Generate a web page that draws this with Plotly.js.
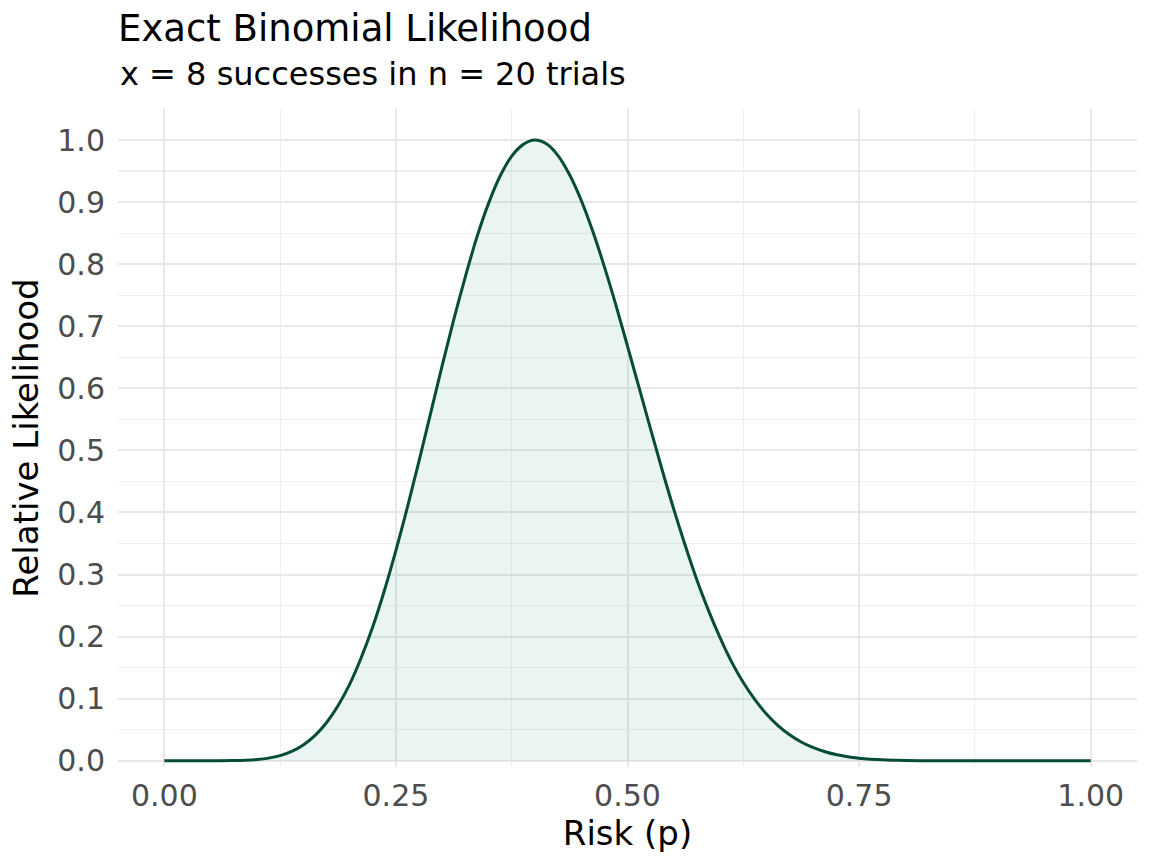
<!DOCTYPE html>
<html>
<head>
<meta charset="utf-8">
<script src="https://cdn.plot.ly/plotly-3.0.1.min.js"></script>
<style>
  html, body { margin: 0; padding: 0; background: #ffffff; }
  #chart { width: 1152px; height: 864px; }
</style>
</head>
<body>
<div id="chart"></div>
<script>
// risk values (p) and relative likelihood
const risk = [0, 0.025, 0.05, 0.075, 0.0875, 0.1, 0.1125, 0.125, 0.1375, 0.15, 0.1625, 0.175, 0.1875,
  0.2, 0.2125, 0.225, 0.2375, 0.25, 0.2625, 0.275, 0.2875, 0.3, 0.3125, 0.325, 0.3375,
  0.35, 0.3625, 0.375, 0.3875, 0.4, 0.4125, 0.425, 0.4375, 0.45, 0.4625, 0.475, 0.4875,
  0.5, 0.5125, 0.525, 0.5375, 0.55, 0.5625, 0.575, 0.5875, 0.6, 0.6125, 0.625, 0.6375,
  0.65, 0.6625, 0.675, 0.6875, 0.7, 0.7125, 0.725, 0.7375, 0.75, 0.7625, 0.775, 0.7875,
  0.8, 0.825, 0.85, 0.875, 0.9, 0.925, 0.95, 0.975, 1];
const likelihood = [0, 0, 0.00002, 0.0003, 0.0008, 0.002, 0.0043, 0.0084, 0.0152, 0.0256, 0.0406, 0.0613, 0.0886,
  0.123, 0.166, 0.216, 0.274, 0.339, 0.409, 0.483, 0.560, 0.637, 0.711, 0.780, 0.844,
  0.898, 0.942, 0.974, 0.993, 1, 0.994, 0.975, 0.944, 0.903, 0.853, 0.796, 0.734,
  0.668, 0.601, 0.534, 0.468, 0.405, 0.346, 0.291, 0.242, 0.198, 0.159, 0.126, 0.0985,
  0.0755, 0.0568, 0.042, 0.0303, 0.0215, 0.0149, 0.010, 0.0066, 0.0042, 0.0026, 0.0015, 0.0009,
  0.0005, 0.0001, 0, 0, 0, 0, 0, 0, 0];
const xTicks = [0, 0.25, 0.5, 0.75, 1];
const xTickLabels = ["0.00", "0.25", "0.50", "0.75", "1.00"];
const xMinor = [0.125, 0.375, 0.625, 0.875];
const yTicks = [0, 0.1, 0.2, 0.3, 0.4, 0.5, 0.6, 0.7, 0.8, 0.9, 1];
const yTickLabels = ["0.0", "0.1", "0.2", "0.3", "0.4", "0.5", "0.6", "0.7", "0.8", "0.9", "1.0"];
const yMinor = [0.05, 0.15, 0.25, 0.35, 0.45, 0.55, 0.65, 0.75, 0.85, 0.95];

const font = "DejaVu Sans, sans-serif";
const gridMajor = "#e8e8e8";
const gridMinor = "#efefef";

let trace = {
    x: risk,
    y: likelihood,
    type: "scatter",
    mode: "lines",
    fill: "tozeroy",
    fillcolor: "rgba(20,140,130,0.095)",
    line: { color: "#064c37", width: 3, shape: "spline", smoothing: 1 },
    hoverinfo: "x+y",
    showlegend: false
};

let layout = {
    width: 1152,
    height: 864,
    paper_bgcolor: "#ffffff",
    plot_bgcolor: "#ffffff",
    font: { family: font, color: "#000000" },
    margin: { l: 118, r: 15, t: 109, b: 97 },
    title: {
        text: "Exact Binomial Likelihood",
        font: { family: font, size: 37, color: "#000000" },
        x: 0, xref: "paper", xanchor: "left",
        y: 0.982, yref: "container", yanchor: "top"
    },
    annotations: [{
        text: "x = 8 successes in n = 20 trials",
        font: { family: font, size: 32, color: "#000000" },
        xref: "paper", yref: "paper",
        x: 0, y: 1.022,
        xanchor: "left", yanchor: "bottom",
        showarrow: false
    }],
    xaxis: {
        title: { text: "Risk (p)", font: { family: font, size: 34, color: "#000000" }, standoff: 6 },
        range: [-0.05, 1.05],
        tickvals: xTicks,
        ticktext: xTickLabels,
        tickfont: { family: font, size: 30, color: "#4d4d4d" },
        ticks: "",
        ticklabelstandoff: 8,
        showgrid: true,
        gridcolor: gridMajor,
        gridwidth: 2,
        minor: { tickvals: xMinor, showgrid: true, gridcolor: gridMinor, gridwidth: 1.2 },
        zeroline: false,
        showline: false,
        fixedrange: true
    },
    yaxis: {
        title: { text: "Relative Likelihood", font: { family: font, size: 34, color: "#000000" }, standoff: 8 },
        range: [-0.01, 1.05],
        tickvals: yTicks,
        ticktext: yTickLabels,
        tickfont: { family: font, size: 30, color: "#4d4d4d" },
        ticks: "",
        ticklabelstandoff: 12,
        showgrid: true,
        gridcolor: gridMajor,
        gridwidth: 2,
        minor: { tickvals: yMinor, showgrid: true, gridcolor: gridMinor, gridwidth: 1.2 },
        zeroline: false,
        showline: false,
        fixedrange: true
    }
};

Plotly.newPlot("chart", [trace], layout, { displayModeBar: false, staticPlot: true });
</script>
</body>
</html>
